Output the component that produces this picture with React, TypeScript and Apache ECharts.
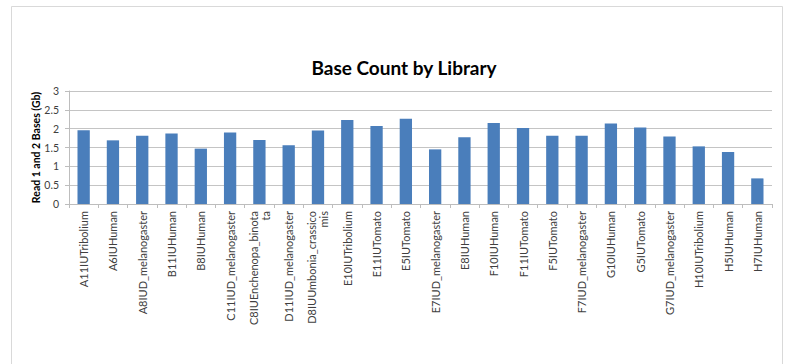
import React, { useEffect, useRef } from "react";
import * as echarts from "echarts";

const libraries = [
  "A11IUTribolium",
  "A6IUHuman",
  "A8IUD_melanogaster",
  "B11IUHuman",
  "B8IUHuman",
  "C11IUD_melanogaster",
  "C8IUEnchenopa_binota\nta",
  "D11IUD_melanogaster",
  "D8IUUmbonia_crassico\nmis",
  "E10IUTribolium",
  "E11IUTomato",
  "E5IUTomato",
  "E7IUD_melanogaster",
  "E8IUHuman",
  "F10IUHuman",
  "F11IUTomato",
  "F5IUTomato",
  "F7IUD_melanogaster",
  "G10IUHuman",
  "G5IUTomato",
  "G7IUD_melanogaster",
  "H10IUTribolium",
  "H5IUHuman",
  "H7IUHuman",
];

const baseCounts = [
  1.96, 1.69, 1.81, 1.87, 1.47, 1.9, 1.7, 1.56, 1.95, 2.23, 2.07, 2.26,
  1.45, 1.77, 2.15, 2.02, 1.81, 1.81, 2.14, 2.03, 1.79, 1.53, 1.38, 0.68,
];

const chartTitle = "Base Count by Library";
const yAxisTitle = "Read 1 and 2 Bases (Gb)";

export default function App() {
  const ref = useRef<HTMLDivElement>(null);

  useEffect(() => {
    if (!ref.current) return;
    const chart = echarts.init(ref.current, null, { renderer: "svg" });
    const font = "Lato, 'Open Sans', sans-serif";
    chart.setOption({
      animation: false,
      backgroundColor: "#ffffff",
      textStyle: { fontFamily: font },
      title: {
        text: chartTitle,
        left: 399,
        top: 53,
        textAlign: "center",
        textStyle: {
          fontFamily: font,
          fontSize: 19,
          fontWeight: "bold",
          color: "#000000",
        },
      },
      graphic: [
        {
          type: "rect",
          shape: { x: 11.5, y: 6.5, width: 771, height: 400 },
          style: { fill: "none", stroke: "#d9d9d9", lineWidth: 1 },
          silent: true,
        },
      ],
      grid: { left: 69, right: 16, top: 91, bottom: 160 },
      xAxis: {
        type: "category",
        data: libraries,
        axisLine: { lineStyle: { color: "#bdbdbd" } },
        axisTick: { show: true, length: 4, lineStyle: { color: "#bdbdbd" } },
        axisLabel: {
          rotate: 90,
          interval: 0,
          margin: 7,
          fontSize: 11,
          fontFamily: font,
          color: "#404040",
          lineHeight: 12,
        },
      },
      yAxis: {
        type: "value",
        min: 0,
        max: 3,
        interval: 0.5,
        name: yAxisTitle,
        nameLocation: "middle",
        nameGap: 28,
        nameMoveOverlap: false,
        nameTextStyle: {
          fontFamily: font,
          fontSize: 10.5,
          fontWeight: "bold",
          color: "#000000",
        },
        axisLine: { show: true, lineStyle: { color: "#bdbdbd" } },
        axisTick: { show: true, length: 4, lineStyle: { color: "#bdbdbd" } },
        axisLabel: {
          margin: 10,
          fontSize: 10.5,
          fontFamily: font,
          color: "#404040",
        },
        splitLine: { lineStyle: { color: "#c4c4c4", width: 1 } },
      },
      series: [
        {
          type: "bar",
          data: baseCounts,
          barCategoryGap: "58%",
          itemStyle: { color: "#4a7ebb" },
        },
      ],
    });
    return () => chart.dispose();
  }, []);

  return (
    <div
      ref={ref}
      style={{ position: "fixed", left: 0, top: 0, width: 788, height: 364 }}
    />
  );
}
